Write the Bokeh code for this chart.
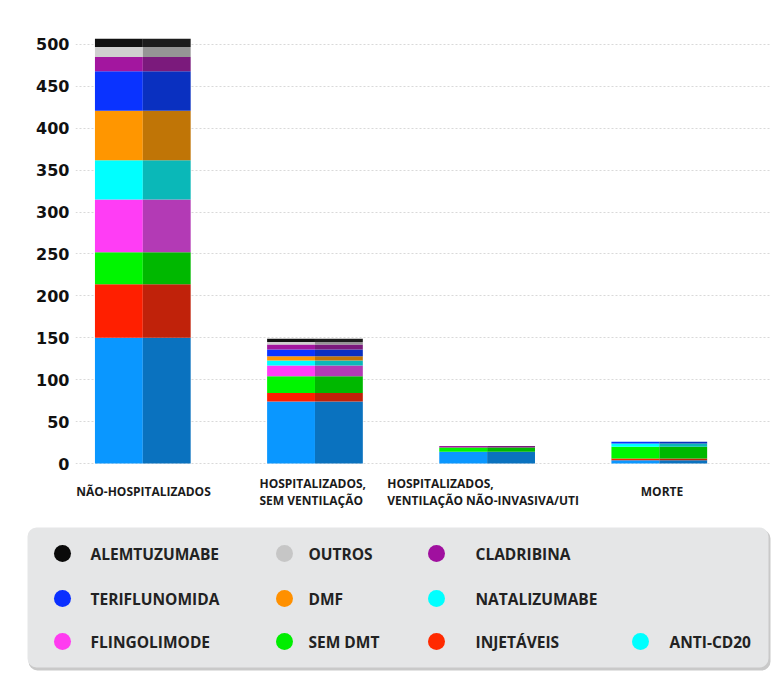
import numpy as np
from bokeh.plotting import figure
from bokeh.layouts import column
from bokeh.models import (ColumnDataSource, Range1d, FixedTicker, BoxAnnotation)
from bokeh.transform import dodge
from bokeh.embed import file_html
from bokeh.resources import INLINE

# ---------------- data ----------------
categories = ["NÃO-HOSPITALIZADOS",
              "HOSPITALIZADOS,\nSEM VENTILAÇÃO",
              "HOSPITALIZADOS,\nVENTILAÇÃO NÃO-INVASIVA/UTI",
              "MORTE"]

# stack order: bottom -> top
series_names = ["ANTI-CD20", "INJETÁVEIS", "SEM DMT", "FLINGOLIMODE", "NATALIZUMABE",
                "DMF", "TERIFLUNOMIDA", "CLADRIBINA", "OUTROS", "ALEMTUZUMABE"]
anti_cd20     = [150, 74, 14, 4]
injetaveis    = [64, 10, 0, 2]
sem_dmt       = [38, 20, 5, 14]
fingolimode   = [63, 13, 0, 0]
natalizumabe  = [47, 6, 0, 4]
dmf           = [59, 5, 0, 0]
teriflunomida = [47, 8, 0, 2]
cladribina    = [17, 6, 2, 0]
outros        = [12, 3, 0, 0]
alemtuzumabe  = [10, 4, 0, 0]

bright = ["#0a97ff", "#ff1f00", "#00f500", "#ff3df5", "#00ffff",
          "#ff9600", "#0a33ff", "#a3169f", "#cfcfcf", "#111111"]
dark   = ["#0a72bf", "#c0220a", "#00b800", "#b33ab5", "#0ab8b8",
          "#c07506", "#0a30c0", "#7b1a7c", "#959595", "#1c1c1c"]

y_ticks = [0, 50, 100, 150, 200, 250, 300, 350, 400, 450, 500]

# legend (row-major grid, None = empty cell)
legend_rows = [["ALEMTUZUMABE", "OUTROS", "CLADRIBINA", None],
               ["TERIFLUNOMIDA", "DMF", "NATALIZUMABE", None],
               ["FLINGOLIMODE", "SEM DMT", "INJETÁVEIS", "ANTI-CD20"]]
legend_colors = {"ALEMTUZUMABE": "#0a0a0a", "OUTROS": "#c6c6c6", "CLADRIBINA": "#a0109f",
                 "TERIFLUNOMIDA": "#0a2fff", "DMF": "#ff9000", "NATALIZUMABE": "#00ffff",
                 "FLINGOLIMODE": "#ff3cf0", "SEM DMT": "#00ee00", "INJETÁVEIS": "#ff2a00",
                 "ANTI-CD20": "#00ffff"}

FONT = "Open Sans"
NUM_FONT = "DejaVu Sans"

# ---------------- chart ----------------
W = 778
CH = 476           # chart figure height
FL, FR, FT, FB = 75, 8, 30, 6
x0, x1 = 0.609, 4.646

xs = list(np.arange(len(categories)) + 1)
data = {"x": xs}
keys = []
for name, vals in zip(series_names, [anti_cd20, injetaveis, sem_dmt, fingolimode, natalizumabe,
                                     dmf, teriflunomida, cladribina, outros, alemtuzumabe]):
    data[name] = vals
    keys.append(name)
src = ColumnDataSource(data)

p = figure(width=W, height=CH, output_backend="svg", toolbar_location=None,
           x_range=Range1d(x0, x1), y_range=Range1d(-8.35, 516.7),
           x_axis_location=None,
           min_border_left=FL, min_border_right=FR, min_border_top=FT, min_border_bottom=FB,
           background_fill_color="white", border_fill_color="white")
p.outline_line_color = None
p.frame_align = False

bw = 0.556
p.vbar_stack(keys, x=dodge("x", -bw / 4), width=bw / 2, source=src,
             fill_color=bright, line_color=None)
p.vbar_stack(keys, x=dodge("x", bw / 4), width=bw / 2, source=src,
             fill_color=dark, line_color=None)

p.xgrid.grid_line_color = None
p.ygrid.grid_line_color = "#d9d9d9"
p.ygrid.grid_line_dash = "2 2"
p.ygrid.grid_line_width = 1
p.ygrid.level = "underlay"

p.yaxis.ticker = FixedTicker(ticks=y_ticks)
p.yaxis.axis_line_color = None
p.yaxis.major_tick_line_color = None
p.yaxis.minor_tick_line_color = None
p.yaxis.major_label_text_font = NUM_FONT
p.yaxis.major_label_text_font_style = "bold"
p.yaxis.major_label_text_font_size = "16px"
p.yaxis.major_label_text_color = "#111111"
p.yaxis.major_label_standoff = 0

# ---------------- lower panel: category labels + legend ----------------
LH = 680 - CH
OFF = CH  # page y of the lower panel's top
L = figure(width=W, height=LH, output_backend="svg", toolbar_location=None,
           x_range=Range1d(0, W), y_range=Range1d(LH, 0),
           x_axis_type=None, y_axis_type=None,
           min_border=0, min_border_left=0, min_border_right=0, min_border_top=0, min_border_bottom=0,
           background_fill_color="white", border_fill_color="white")
L.outline_line_color = None
L.grid.visible = False
L.frame_align = False

# category labels, left-aligned lines centred under each bar (same x scale as the chart)
frame_w = W - FL - FR
CHAR_W = 7.4
cx = [FL + (x - x0) / (x1 - x0) * frame_w for x in xs]
lab_x = [c - max(len(s) for s in cat.split("\n")) * CHAR_W / 2 for c, cat in zip(cx, categories)]
L.text(lab_x, [491 - OFF] * len(categories), text=categories, text_font={"value": FONT},
       text_font_style="bold", text_font_size="12px", text_color="#1a1a1a",
       text_align="left", text_baseline="middle", text_line_height=1.0)

L.add_layout(BoxAnnotation(left=28, right=770, top=529 - OFF, bottom=670 - OFF, border_radius=9,
                           fill_color="#c9c9c9", fill_alpha=1, line_color=None, level="underlay"))
L.add_layout(BoxAnnotation(left=27, right=768, top=527 - OFF, bottom=667 - OFF, border_radius=9,
                           fill_color="#e5e6e7", fill_alpha=1, line_color=None, level="underlay"))

dot_x = [62, 284, 436, 640]
txt_x = [90, 308, 475, 669]
row_y = [553 - OFF, 598 - OFF, 641 - OFF]
lx, ly, lc, tx, ty, tt = [], [], [], [], [], []
for r, row in enumerate(legend_rows):
    for c, name in enumerate(row):
        if name is None:
            continue
        lx.append(dot_x[c]); ly.append(row_y[r]); lc.append(legend_colors[name])
        tx.append(txt_x[c]); ty.append(row_y[r]); tt.append(name)
L.scatter(lx, ly, size=17, fill_color=lc, line_color=None)
L.text(tx, ty, text=tt, text_font_size="15.5px", text_font_style="bold",
       text_baseline="middle", text_align="left", text_color="#222222",
       text_font={"value": FONT})

layout = column(p, L, spacing=0)
open("out.html", "w").write(file_html(layout, INLINE))
